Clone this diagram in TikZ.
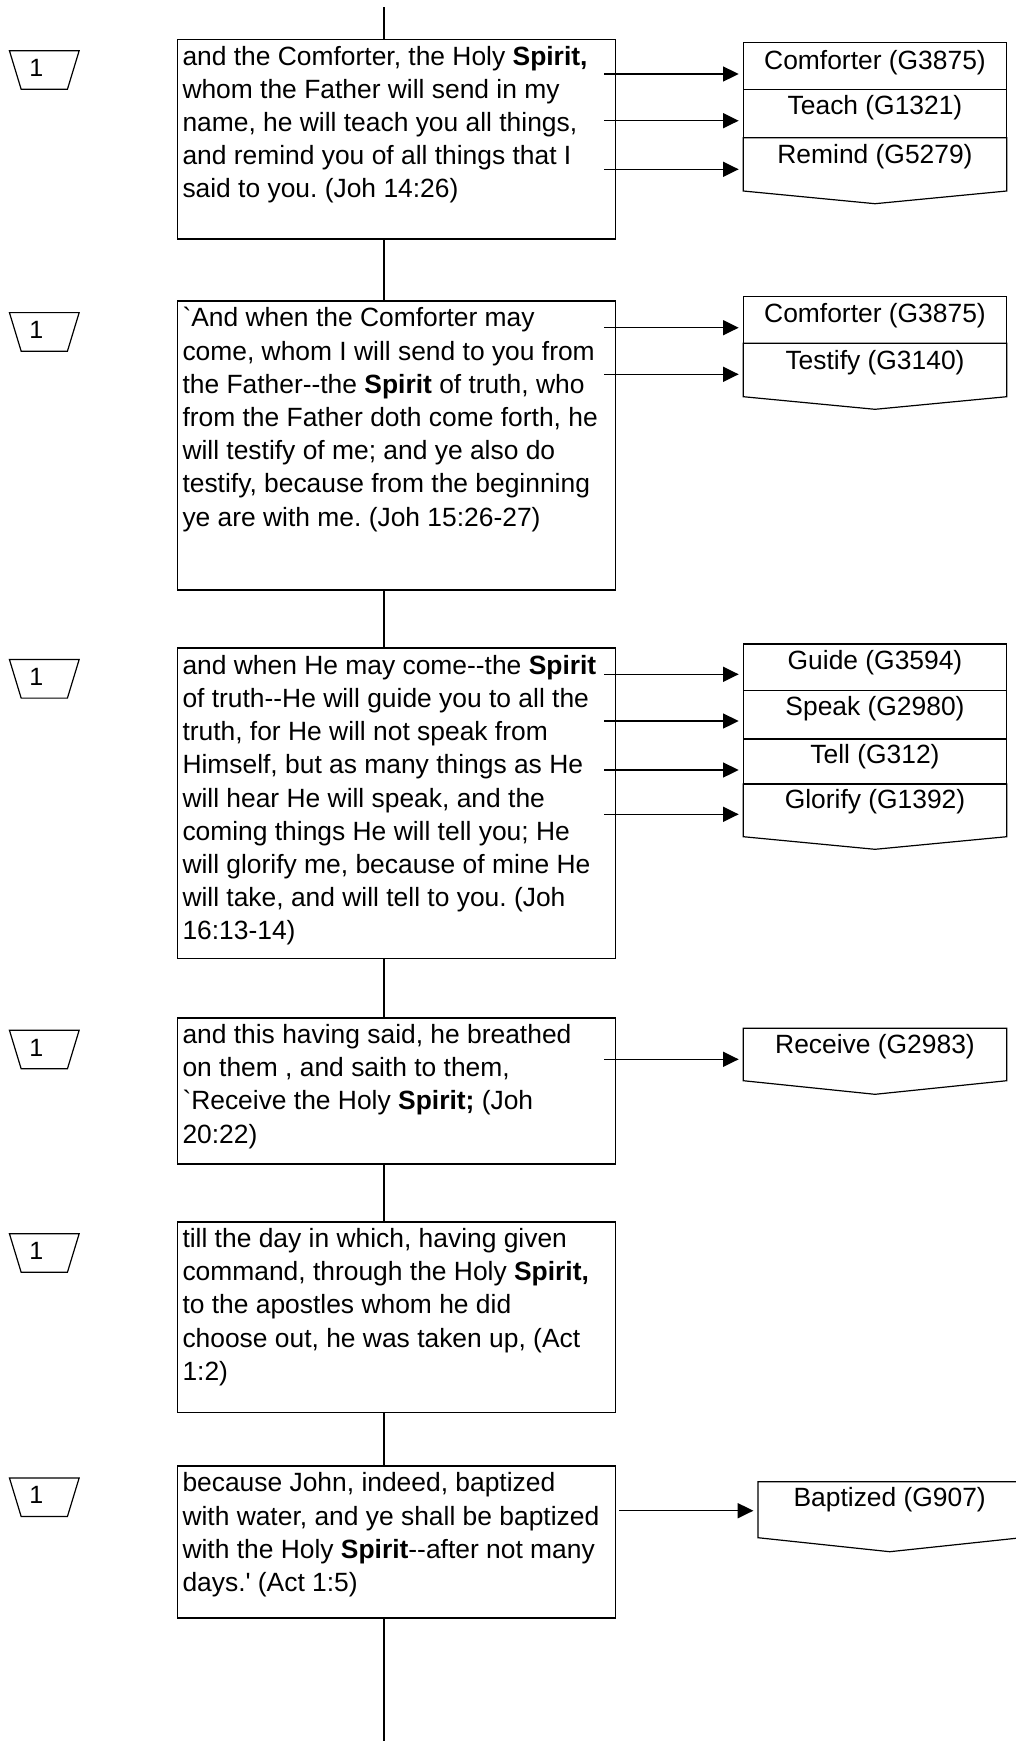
\documentclass[tikz,border=0pt]{standalone}
\usepackage{fontspec}
\newfontfamily\af{Liberation Sans}
\usetikzlibrary{arrows.meta,shapes.geometric,calc}
\newcommand{\fs}{\rule{0pt}{22pt}}
\frenchspacing
\begin{document}
\begin{tikzpicture}[x=1pt,y=-1pt,
  mainbox/.style={draw, line width=1.6pt, rectangle, inner sep=0, outer sep=0, anchor=north west, minimum width=438pt},
  mtext/.style={anchor=north west, inner sep=0, outer sep=0, align=left, font=\af\fontsize{26.4}{33.2}\selectfont\frenchspacing},
  lbl/.style={anchor=base, inner sep=0, font=\af\fontsize{26.4}{31}\selectfont},
  sec/.style={draw, line width=1.2pt, rectangle, inner sep=0, outer sep=0, anchor=north west, minimum width=263.4pt},
  lastsec/.style={rectangle, inner sep=0, outer sep=0, anchor=north west, minimum width=263.4pt},
  pent/.style={draw, line width=1.2pt, line join=miter},
  arr/.style={line width=1.5pt, -{Triangle[length=15.7pt,width=15pt]}, shorten >=4.6pt},
  vline/.style={line width=1.6pt},
  numbox/.style={trapezium, draw, line width=1.2pt, shape border rotate=180, trapezium angle=70.3, trapezium stretches=true, minimum width=70pt, minimum height=38.6pt, inner sep=0, text depth=4pt, font=\af\fontsize{25}{30}\selectfont}
]
\useasboundingbox (0,0) rectangle (1016,1741);

% ---------- number trapezoids ----------
\node[numbox] (k1) at (44.3,70) {1\rule{16pt}{0pt}};
\node[numbox] (k2) at (44.3,331.9) {1\rule{16pt}{0pt}};
\node[numbox] (k3) at (44.3,678.8) {1\rule{16pt}{0pt}};
\node[numbox] (k4) at (44.3,1049.5) {1\rule{16pt}{0pt}};
\node[numbox] (k5) at (44.3,1253) {1\rule{16pt}{0pt}};
\node[numbox] (k6) at (44.3,1497.2) {1\rule{16pt}{0pt}};

% ---------- main boxes ----------
\node[mainbox, minimum height=199.7pt] (b1) at (177.3,39.3) {};
\node[mainbox, minimum height=289pt] (b2) at (177.3,301) {};
\node[mainbox, minimum height=310.6pt] (b3) at (177.3,647.7) {};
\node[mainbox, minimum height=146.3pt] (b4) at (177.3,1017.7) {};
\node[mainbox, minimum height=190.6pt] (b5) at (177.3,1221.7) {};
\node[mainbox, minimum height=151.7pt] (b6) at (177.3,1466) {};

\node[mtext] (t1) at (182.5,43.1) {\fs and the Comforter, the Holy \textbf{Spirit,}\\
whom the Father will send in my\\
name, he will teach you all things,\\
and remind you of all things that I\\
said to you. (Joh 14:26)};

\node[mtext] (t2) at (182.5,304.8) {\fs `And when the Comforter may\\
come, whom I will send to you from\\
the Father--the \textbf{Spirit} of truth, who\\
from the Father doth come forth, he\\
will testify of me; and ye also do\\
testify, because from the beginning\\
ye are with me. (Joh 15:26-27)};

\node[mtext] (t3) at (182.5,652.3) {\fs and when He may come--the \textbf{Spirit}\\
of truth--He will guide you to all the\\
truth, for He will not speak from\\
Himself, but as many things as He\\
will hear He will speak, and the\\
coming things He will tell you; He\\
will glorify me, because of mine He\\
will take, and will tell to you. (Joh\\
16:13-14)};

\node[mtext] (t4) at (182.5,1021.4) {\fs and this having said, he breathed\\
on them , and saith to them,\\
`Receive the Holy \textbf{Spirit;} (Joh\\
20:22)};

\node[mtext] (t5) at (182.5,1225.5) {\fs till the day in which, having given\\
command, through the Holy \textbf{Spirit,}\\
to the apostles whom he did\\
choose out, he was taken up, (Act\\
1:2)};

\node[mtext] (t6) at (182.5,1469.8) {\fs because John, indeed, baptized\\
with water, and ye shall be baptized\\
with the Holy \textbf{Spirit}--after not many\\
days.' (Act 1:5)};

% ---------- vertical connectors ----------
\coordinate (vt) at (384,7);
\coordinate (vb) at (384,1741);
\draw[vline] (vt) -- (vt |- b1.north);
\draw[vline] (b1.south -| vt) -- (b2.north -| vt);
\draw[vline] (b2.south -| vt) -- (b3.north -| vt);
\draw[vline] (b3.south -| vt) -- (b4.north -| vt);
\draw[vline] (b4.south -| vt) -- (b5.north -| vt);
\draw[vline] (b5.south -| vt) -- (b6.north -| vt);
\draw[vline] (b6.south -| vt) -- (vb);

% ---------- right box 1 ----------
\node[sec, minimum height=46.6pt] (r1a) at (743.3,42.7) {};
\node[sec, minimum height=48.4pt] (r1b) at (743.3,89.3) {};
\node[lastsec, minimum height=53.3pt] (r1c) at (743.3,137.7) {};
\draw[pent] (r1c.north west) -- (r1c.south west) -- ($(r1c.south)+(0,12.7)$) -- (r1c.south east) -- (r1c.north east) -- cycle;
\node[lbl] (l1a) at (875,69) {Comforter (G3875)};
\node[lbl] (l1b) at (875,114.3) {Teach (G1321)};
\node[lbl] (l1c) at (875,163.3) {Remind (G5279)};
\coordinate (s1a) at (604,74);
\coordinate (s1b) at (604,120.7);
\coordinate (s1c) at (604,169.3);
\draw[arr] (s1a) -- (s1a -| r1a.west);
\draw[arr] (s1b) -- (s1b -| r1b.west);
\draw[arr] (s1c) -- (s1c -| r1c.west);

% ---------- right box 2 ----------
\node[sec, minimum height=46.6pt] (r2a) at (743.3,296.7) {};
\node[lastsec, minimum height=53.4pt] (r2b) at (743.3,343.3) {};
\draw[pent] (r2b.north west) -- (r2b.south west) -- ($(r2b.south)+(0,12.6)$) -- (r2b.south east) -- (r2b.north east) -- cycle;
\node[lbl] (l2a) at (875,322.3) {Comforter (G3875)};
\node[lbl] (l2b) at (875,369.3) {Testify (G3140)};
\coordinate (s2a) at (604,327.7);
\coordinate (s2b) at (604,374.3);
\draw[arr] (s2a) -- (s2a -| r2a.west);
\draw[arr] (s2b) -- (s2b -| r2b.west);

% ---------- right box 3 ----------
\node[sec, minimum height=46.7pt] (r3a) at (743.3,644) {};
\node[sec, minimum height=48.3pt] (r3b) at (743.3,690.7) {};
\node[sec, minimum height=45pt] (r3c) at (743.3,739) {};
\node[lastsec, minimum height=52.7pt] (r3d) at (743.3,784) {};
\draw[pent] (r3d.north west) -- (r3d.south west) -- ($(r3d.south)+(0,12.6)$) -- (r3d.south east) -- (r3d.north east) -- cycle;
\node[lbl] (l3a) at (875,669.3) {Guide (G3594)};
\node[lbl] (l3b) at (875,715) {Speak (G2980)};
\node[lbl] (l3c) at (875,763.3) {Tell (G312)};
\node[lbl] (l3d) at (875,808.3) {Glorify (G1392)};
\coordinate (s3a) at (604,674.3);
\coordinate (s3b) at (604,721);
\coordinate (s3c) at (604,770);
\coordinate (s3d) at (604,814.3);
\draw[arr] (s3a) -- (s3a -| r3a.west);
\draw[arr] (s3b) -- (s3b -| r3b.west);
\draw[arr] (s3c) -- (s3c -| r3c.west);
\draw[arr] (s3d) -- (s3d -| r3d.west);

% ---------- right box 4 ----------
\node[lastsec, minimum height=52.4pt] (r4a) at (743.3,1028.3) {};
\draw[pent] (r4a.north west) -- (r4a.south west) -- ($(r4a.south)+(0,13.6)$) -- (r4a.south east) -- (r4a.north east) -- cycle;
\node[lbl] (l4a) at (875,1053.3) {Receive (G2983)};
\coordinate (s4a) at (604,1059.3);
\draw[arr] (s4a) -- (s4a -| r4a.west);

% ---------- right box 6 ----------
\node[lastsec, minimum height=56pt] (r6a) at (758,1481.7) {};
\draw[pent] (r6a.north west) -- (r6a.south west) -- ($(r6a.south)+(0,14)$) -- (r6a.south east) -- (r6a.north east) -- cycle;
\node[lbl] (l6a) at (889.7,1506.7) {Baptized (G907)};
\coordinate (s6a) at (619,1510.7);
\draw[arr] (s6a) -- (s6a -| r6a.west);
\end{tikzpicture}
\end{document}
